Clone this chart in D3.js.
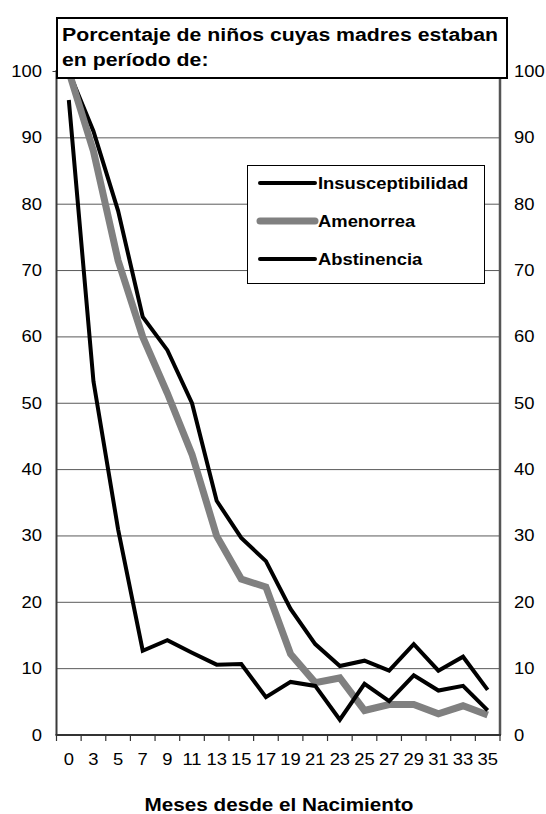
<!DOCTYPE html>
<html><head><meta charset="utf-8">
<script src="https://cdn.jsdelivr.net/npm/d3@7"></script>
<style>body{margin:0;background:#fff}svg{display:block}text{font-family:"Liberation Sans",Arial,sans-serif}</style>
</head><body>
<svg id="c" width="546" height="814"></svg>
<script>
const categories = ["0","3","5","7","9","11","13","15","17","19","21","23","25","27","29","31","33","35"];
const insusceptibilidad = [100, 91, 79, 63, 58, 50, 35.3, 29.7, 26.2, 19, 13.7, 10.4, 11.2, 9.7, 13.7, 9.7, 11.8, 6.8];
const amenorrea = [100, 88, 71.5, 60, 51.5, 42.3, 30, 23.5, 22.3, 12.2, 7.9, 8.6, 3.7, 4.6, 4.6, 3.2, 4.4, 3.0];
const abstinencia = [95.7, 53.3, 31, 12.7, 14.3, 12.4, 10.6, 10.7, 5.7, 8.0, 7.4, 2.3, 7.7, 5.1, 9.0, 6.7, 7.4, 3.7];
const yTicks = [0,10,20,30,40,50,60,70,80,90,100];
const seriesNames = ["Insusceptibilidad","Amenorrea","Abstinencia"];
const titleLines = ["Porcentaje de niños cuyas madres estaban","en período de:"];
const xTitle = "Meses desde el Nacimiento";

const SX = 1.15;
const svg = d3.select("#c");
const L = 56.5, R = 500, T = 71.5, B = 735;
const x = d3.scaleBand().domain(categories).range([L, R]);
const y = d3.scaleLinear().domain([0,100]).range([B, T]);

function stext(g, tx, ty, str, size, weight, anchor) {
  return g.append("text").attr("transform", `translate(${tx},${ty}) scale(${SX},1)`)
    .attr("font-size", size).attr("font-weight", weight || "normal")
    .attr("text-anchor", anchor || "start").attr("fill", "#000").text(str);
}

// gridlines
svg.append("g").selectAll("line").data(yTicks.filter(d => d > 0 && d < 100)).join("line")
  .attr("x1", L).attr("x2", R).attr("y1", d => y(d)).attr("y2", d => y(d))
  .attr("stroke", "#5a5a5a").attr("stroke-width", 1);

// y labels left & right
yTicks.forEach(d => {
  stext(svg, 42, y(d) + 5.5, String(d), 16, "normal", "end");
  stext(svg, 514, y(d) + 5.5, String(d), 16, "normal", "start");
});

// axes lines
svg.append("line").attr("x1", L).attr("x2", L).attr("y1", 70).attr("y2", B).attr("stroke", "#3a3a3a").attr("stroke-width", 2);
svg.append("line").attr("x1", R).attr("x2", R).attr("y1", 70).attr("y2", B).attr("stroke", "#555").attr("stroke-width", 2.5);
svg.append("line").attr("x1", L - 4).attr("x2", L).attr("y1", T).attr("y2", T).attr("stroke", "#3a3a3a").attr("stroke-width", 1);

// x axis with ticks between categories
const xAxis = d3.axisBottom(x).tickSize(0).tickFormat("");
const gx = svg.append("g").attr("transform", `translate(0,${B})`).call(xAxis);
gx.select(".domain").remove();
svg.append("line").attr("x1", L - 1).attr("x2", R + 1).attr("y1", B).attr("y2", B).attr("stroke", "#333").attr("stroke-width", 2);
const bounds = categories.map(c => x(c)).concat([R]);
svg.append("g").selectAll("line").data(bounds).join("line")
  .attr("x1", d => d).attr("x2", d => d).attr("y1", B).attr("y2", B + 6)
  .attr("stroke", "#333").attr("stroke-width", 1.2);
categories.forEach(c => stext(svg, x(c) + x.bandwidth()/2, 765, c, 16, "normal", "middle"));

// lines
const line = d3.line().x((d,i) => x(categories[i]) + x.bandwidth()/2).y(d => y(d));
const styles = [
  {data: insusceptibilidad, color: "#000", w: 4},
  {data: amenorrea, color: "#808080", w: 7},
  {data: abstinencia, color: "#000", w: 4}
];
styles.forEach(s => svg.append("path").datum(s.data).attr("d", line)
  .attr("fill", "none").attr("stroke", s.color).attr("stroke-width", s.w)
  .attr("stroke-linejoin", "miter").attr("stroke-linecap", "butt"));

// title box
svg.append("rect").attr("x", 57).attr("y", 18).attr("width", 450).attr("height", 60)
  .attr("fill", "#fff").attr("stroke", "#000").attr("stroke-width", 2);
stext(svg, 62, 41, titleLines[0], 18.5, "bold");
stext(svg, 62, 66, titleLines[1], 18.5, "bold");

// legend
svg.append("rect").attr("x", 247.5).attr("y", 165.5).attr("width", 237).attr("height", 118)
  .attr("fill", "#fff").attr("stroke", "#000").attr("stroke-width", 1);
const ly = [183, 221, 259];
styles.forEach((s, i) => {
  svg.append("line").attr("x1", 260).attr("x2", 315).attr("y1", ly[i]).attr("y2", ly[i])
    .attr("stroke", s.color).attr("stroke-width", s.w).attr("stroke-linecap", "round");
  stext(svg, 318, ly[i] + 6, seriesNames[i], 16, "bold");
});

// x title
stext(svg, 279, 811, xTitle, 18, "bold", "middle");
</script>
</body></html>
